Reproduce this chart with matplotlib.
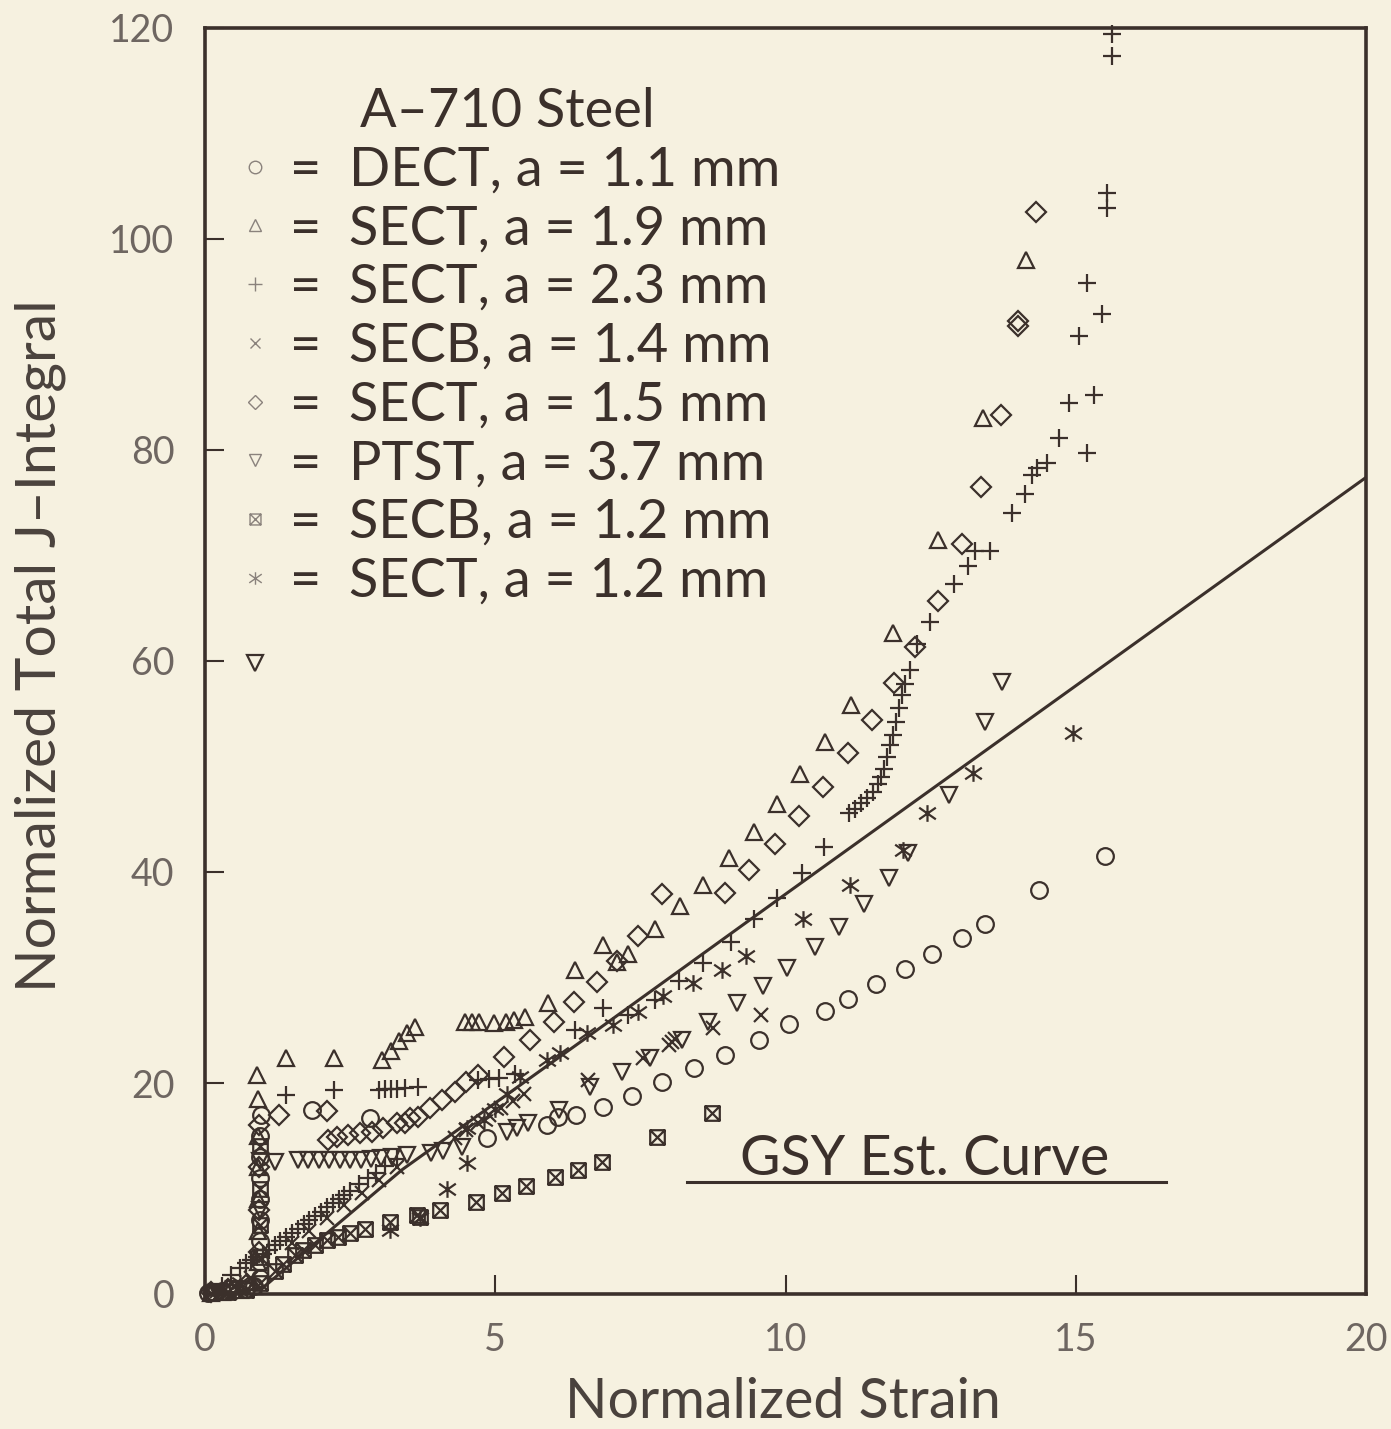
import matplotlib
matplotlib.use("Agg")
import matplotlib.pyplot as plt
from matplotlib.path import Path
from matplotlib.lines import Line2D

# ---------------- data ----------------
dect_x = [0.05, 0.15, 0.3, 0.5, 0.7, 0.85, 0.95, 0.95, 0.95, 0.95, 0.95, 0.95, 0.95, 0.95, 0.97,
          1.84, 2.84, 4.86, 5.89, 6.08, 6.39, 6.86, 7.36, 7.87, 8.42, 8.96, 9.54, 10.06, 10.68,
          11.08, 11.56, 12.06, 12.52, 13.04, 13.44, 14.37, 15.50]
dect_y = [0.1, 0.2, 0.3, 0.4, 0.5, 0.8, 1.5, 3, 5, 7, 9, 11, 13, 15, 17,
          17.4, 16.7, 14.8, 16.0, 16.8, 17.0, 17.7, 18.8, 20.1, 21.4, 22.7, 24.1, 25.6, 26.8,
          28.0, 29.4, 30.8, 32.2, 33.7, 35.1, 38.3, 41.5]

sect19_x = [0.1, 0.3, 0.6, 0.85, 0.92, 0.92, 0.92, 0.92, 0.92, 0.92, 0.9, 1.4, 2.22, 3.05, 3.2,
            3.35, 3.48, 3.62, 4.48, 4.6, 4.72, 4.98, 5.18, 5.32, 5.52, 5.91, 6.37, 6.86, 7.10,
            7.29, 7.75, 8.18, 8.58, 9.03, 9.46, 9.85, 10.25, 10.68, 11.13, 11.85, 12.63, 13.40, 14.14]
sect19_y = [0.1, 0.2, 0.4, 0.8, 3, 6, 9, 12, 15, 18.5, 20.8, 22.4, 22.4, 22.2, 23.0,
            24.0, 24.7, 25.3, 25.8, 25.8, 25.8, 25.7, 25.8, 26.0, 26.3, 27.6, 30.7, 33.1, 31.5,
            32.2, 34.6, 36.8, 38.8, 41.3, 43.8, 46.4, 49.3, 52.3, 55.8, 62.7, 71.5, 83.0, 98.0]

sect23_x = [0.3, 0.45, 0.6, 0.7, 0.8, 0.9, 1.0, 1.1, 1.2, 1.3, 1.4, 1.5, 1.6, 1.7, 1.8, 1.9, 2.0,
            2.1, 2.2, 2.3, 2.4, 2.5, 2.65, 2.8, 2.95, 3.1, 3.3,
            1.4, 2.22, 3.0, 3.1, 3.2, 3.3, 3.45, 3.67, 4.7, 4.9, 5.07, 5.34, 6.37, 6.86, 7.29,
            7.75, 8.17, 8.58, 9.06, 9.46, 9.85, 10.28, 10.66,
            11.1, 11.2, 11.3, 11.4, 11.5, 11.6, 11.65, 11.7, 11.75, 11.8, 11.85, 11.9, 11.95,
            12.0, 12.05, 12.14, 12.26, 12.49, 12.9, 13.14, 13.26, 13.52, 13.9, 14.13, 14.25,
            14.33, 14.50, 14.71, 15.19, 14.88, 15.32, 15.06, 15.45, 15.19, 15.54, 15.54,
            15.62, 15.62]
sect23_y = [0.8, 1.8, 2.5, 2.9, 3.2, 3.5, 3.8, 4.2, 4.6, 5.0, 5.4, 5.8, 6.2, 6.6, 7.0, 7.4, 7.8,
            8.2, 8.6, 9.0, 9.4, 9.8, 10.4, 11.0, 11.5, 12.1, 12.8,
            18.9, 19.3, 19.3, 19.4, 19.4, 19.4, 19.5, 19.6, 20.3, 20.4, 20.5, 20.9, 25.0, 27.1,
            26.4, 27.9, 29.7, 31.4, 33.4, 35.5, 37.5, 39.9, 42.4,
            45.6, 46.0, 46.5, 47.0, 47.6, 48.3, 49.0, 49.8, 50.9, 52.0, 53.0, 54.2, 55.5,
            56.8, 57.8, 59.1, 61.6, 63.7, 67.3, 69.0, 70.4, 70.4, 74.0, 75.8, 77.6,
            78.3, 78.8, 81.1, 79.7, 84.5, 85.2, 90.8, 92.9, 95.8, 102.9, 104.4,
            117.3, 119.4]

secb14_x = [0.2, 0.5, 0.8, 1.5, 1.8, 2.1, 2.4, 2.7, 3.0, 3.3, 4.3, 4.5, 4.7, 4.9, 5.1, 5.3,
            5.5, 6.6, 7.55, 8.0, 8.05, 8.1, 8.75, 9.58]
secb14_y = [0.3, 0.8, 1.5, 4.8, 6.0, 7.2, 8.4, 9.6, 10.8, 12.0, 14.8, 15.5, 16.2, 17.0, 17.6,
            18.3, 19.0, 20.3, 22.4, 23.6, 23.9, 24.2, 25.2, 26.4]

sect15_x = [0.1, 0.4, 0.7, 0.93, 0.93, 0.93, 0.93, 1.27, 2.1, 2.12, 2.27, 2.46, 2.67, 2.88,
            3.07, 3.3, 3.45, 3.53, 3.67, 3.88, 4.08, 4.31, 4.5, 4.7, 5.15, 5.6, 6.01, 6.36,
            6.75, 7.10, 7.46, 7.87, 8.96, 9.37, 9.82, 10.23, 10.65, 11.08, 11.49, 11.87, 12.23,
            12.63, 13.04, 13.37, 13.71, 14.0, 14.0, 14.32]
sect15_y = [0.2, 0.5, 0.9, 4, 8, 12, 16, 17.0, 17.3, 14.6, 14.9, 15.1, 15.3, 15.4,
            15.7, 16.2, 16.2, 16.7, 16.8, 17.6, 18.4, 19.1, 20.1, 20.8, 22.5, 24.1, 25.8, 27.7,
            29.6, 31.6, 33.9, 37.9, 38.0, 40.2, 42.7, 45.3, 48.1, 51.3, 54.4, 57.9, 61.3,
            65.7, 71.1, 76.5, 83.3, 91.8, 92.2, 102.6]

ptst_x = [0.2, 0.5, 0.86, 0.95, 0.95, 1.2, 1.6, 1.78, 1.96, 2.14, 2.32, 2.5, 2.68, 2.86, 3.04,
          3.22, 3.48, 3.9, 4.1, 4.42, 5.2, 5.37, 5.56, 6.1, 6.63, 7.18, 7.67, 8.22, 8.66, 9.16,
          9.61, 10.03, 10.51, 10.92, 11.35, 11.78, 12.11, 12.82, 13.44, 13.73]
ptst_y = [0.2, 0.5, 59.8, 8.0, 12.6, 12.5, 12.7, 12.7, 12.7, 12.7, 12.7, 12.7, 12.7, 12.8, 12.9,
          13.0, 13.2, 13.4, 13.6, 13.9, 15.4, 15.7, 16.2, 17.4, 19.6, 21.0, 22.4, 24.1, 25.8, 27.6,
          29.2, 30.9, 32.9, 34.8, 37.0, 39.4, 41.8, 47.3, 54.2, 58.0]

secb12_x = [0.1, 0.4, 0.7, 0.95, 0.95, 0.95, 0.95, 0.95, 1.2, 1.35, 1.55, 1.69, 1.9, 2.1,
            2.29, 2.5, 2.76, 3.19, 3.65, 3.7, 4.05, 4.67, 5.12, 5.53, 6.03, 6.43, 6.84, 7.79, 8.73]
secb12_y = [0.1, 0.2, 0.4, 1.0, 3.5, 6.5, 10.0, 14.0, 2.2, 2.8, 3.7, 4.2, 4.6, 5.1,
            5.4, 5.8, 6.2, 6.8, 7.5, 7.3, 8.0, 8.7, 9.6, 10.2, 11.1, 11.8, 12.5, 14.9, 17.2]

sect12_x = [0.3, 0.6, 3.19, 3.7, 4.17, 4.51, 4.51, 4.8, 5.0, 5.2, 5.43, 5.89, 6.12, 6.58, 7.03,
            7.46, 7.89, 8.41, 8.9, 9.32, 10.30, 11.11, 12.02, 12.44, 13.23, 14.95]
sect12_y = [0.4, 1.0, 6.1, 7.2, 10.0, 12.4, 15.7, 16.5, 17.5, 19.0, 20.6, 22.2, 22.8, 24.7, 25.5,
            26.7, 28.2, 29.5, 30.7, 32.0, 35.5, 38.8, 42.1, 45.6, 49.4, 53.2]

gsy_x = [0.0, 0.5, 1.0, 2.0, 3.4, 6.8, 10.0, 14.38, 20.0]
gsy_y = [0.0, 0.15, 0.6, 5.3, 11.8, 25.2, 37.9, 55.2, 77.4]

labels = ["=  DECT, a = 1.1 mm", "=  SECT, a = 1.9 mm", "=  SECT, a = 2.3 mm",
          "=  SECB, a = 1.4 mm", "=  SECT, a = 1.5 mm", "=  PTST, a = 3.7 mm",
          "=  SECB, a = 1.2 mm", "=  SECT, a = 1.2 mm"]
legend_title = "A\u2013710 Steel"
curve_label = "GSY Est. Curve"
xticks = [0, 5, 10, 15, 20]
yticks = [0, 20, 40, 60, 80, 100, 120]

# ---------------- style ----------------
BG = "#f6f1e0"
INK = "#3b302b"
GRAY = "#6e6661"
FONT = ["Lato", "DejaVu Sans"]
plt.rcParams["font.family"] = FONT

boxx = Path([(-1, -1), (1, -1), (1, 1), (-1, 1), (-1, -1), (-1, -1), (1, 1), (-1, 1), (1, -1)],
            [Path.MOVETO, Path.LINETO, Path.LINETO, Path.LINETO, Path.CLOSEPOLY,
             Path.MOVETO, Path.LINETO, Path.MOVETO, Path.LINETO])
aster = Path([(0, -1), (0, 1), (-1, -0.7), (1, 0.7), (-1, 0.7), (1, -0.7)],
             [Path.MOVETO, Path.LINETO, Path.MOVETO, Path.LINETO, Path.MOVETO, Path.LINETO])

series = [
    (dect_x, dect_y, "o", 12),
    (sect19_x, sect19_y, "^", 12),
    (sect23_x, sect23_y, "+", 13),
    (secb14_x, secb14_y, "x", 10.5),
    (sect15_x, sect15_y, "D", 10),
    (ptst_x, ptst_y, "v", 12),
    (secb12_x, secb12_y, boxx, 10.5),
    (sect12_x, sect12_y, aster, 12),
]

fig = plt.figure(figsize=(13.91, 14.29), dpi=100, facecolor=BG)
ax = fig.add_axes([205 / 1391, 1 - 1294 / 1429, 1161 / 1391, 1266 / 1429], facecolor=BG)

for xs, ys, m, ms in series:
    ax.plot(xs, ys, ls="none", marker=m, ms=ms, mfc="none", mec=INK, mew=1.6, clip_on=False)

ax.plot(gsy_x, gsy_y, color=INK, lw=2.2)

ax.set_xlim(0, 20)
ax.set_ylim(0, 120)
ax.set_xticks(xticks)
ax.set_yticks(yticks)
ax.set_xticklabels([str(t) for t in xticks])
ax.set_yticklabels([str(t) for t in yticks])
ax.tick_params(direction="in", length=14, width=1.5, color=INK, labelcolor=GRAY,
               labelsize=27)
ax.tick_params(axis="y", pad=22)
ax.tick_params(axis="x", pad=20)
for s in ax.spines.values():
    s.set_linewidth(2.6)
    s.set_color(INK)

fig.text(783 / 1391, 1 - 1403 / 1429, "Normalized Strain", ha="center", va="center",
         fontsize=40, color="#4a423d")
fig.text(40 / 1391, 1 - 646 / 1429, "Normalized Total J\u2013Integral", ha="center",
         va="center", rotation=90, fontsize=41, color="#4a423d")

# legend
handles = []
for xs, ys, m, ms in series:
    handles.append(Line2D([], [], ls="none", marker=m, ms=ms * 0.75, mfc="none",
                          mec="#8a827c", mew=1.0))
leg = ax.legend(handles, labels, title=legend_title, loc="upper left",
                bbox_to_anchor=(0.0245, 0.9535), borderaxespad=0.0, frameon=False,
                fontsize=39, title_fontsize=39, handlelength=0.8, handletextpad=0.25,
                labelspacing=0.18, borderpad=0.0, markerscale=1.0)
for t in leg.get_texts():
    t.set_color(INK)
leg.get_title().set_color(INK)

# GSY curve key
ax.plot([0.415, 0.828], [0.0885, 0.0885], transform=ax.transAxes, color=INK, lw=2.2)
ax.text(0.62, 0.094, curve_label, transform=ax.transAxes, ha="center", va="baseline",
        fontsize=40, color=INK)

fig.savefig("out.png", dpi=100, facecolor=BG)
